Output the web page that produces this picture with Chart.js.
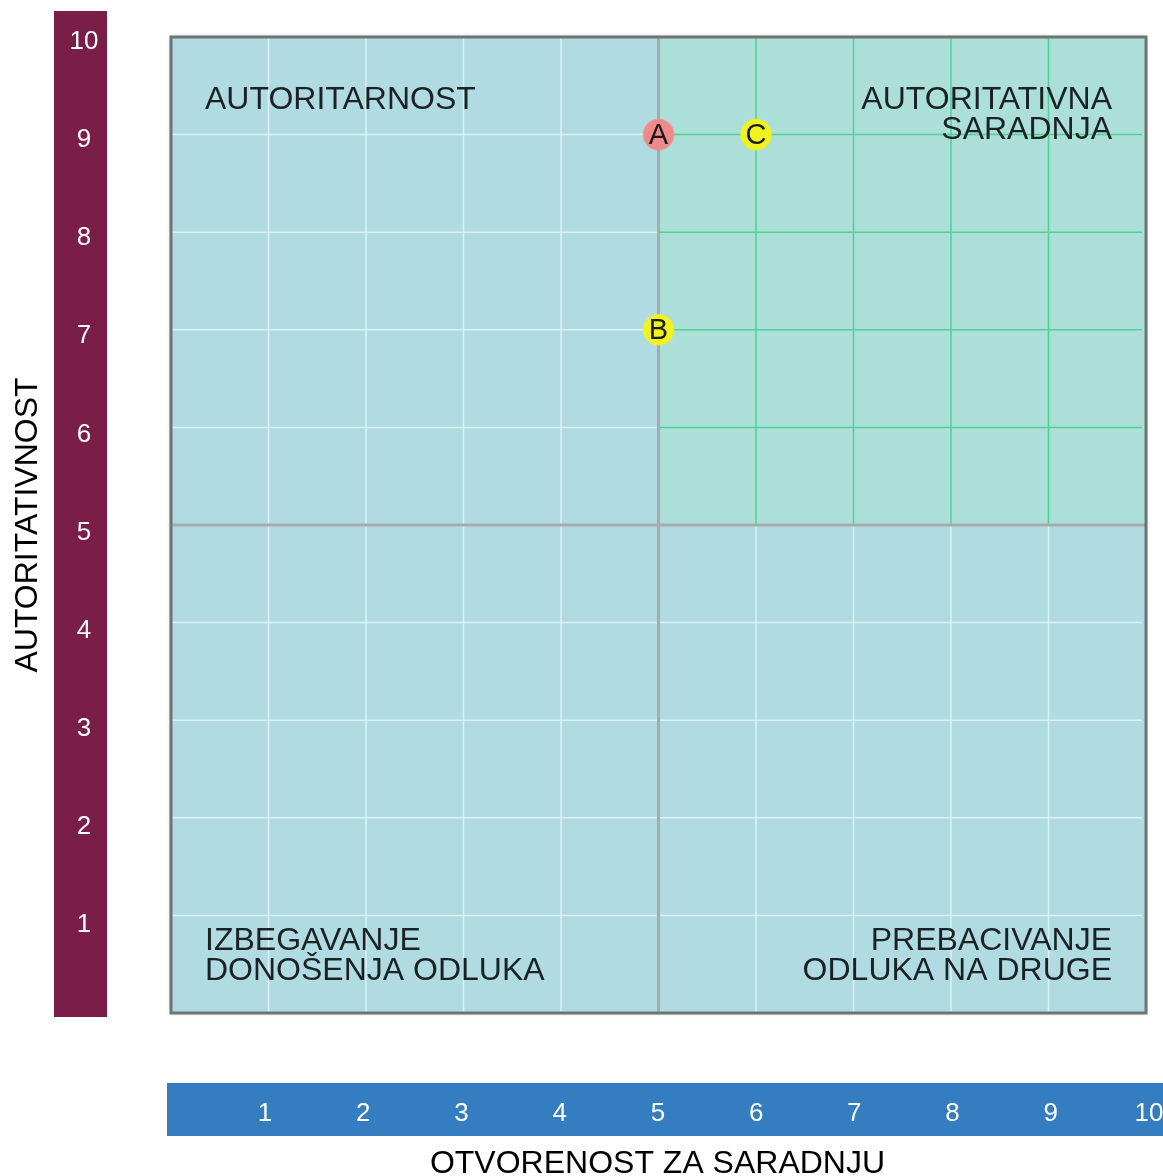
<!DOCTYPE html>
<html>
<head>
<meta charset="utf-8">
<script src="https://cdn.jsdelivr.net/npm/chart.js@4.4.0/dist/chart.umd.min.js"></script>
<style>
    body { margin: 0; background: #ffffff; }
    #wrap { width: 1163px; height: 1176px; position: relative; }
</style>
</head>
<body>
<div id="wrap"><canvas id="chartMatrix"></canvas></div>
<script>
// Data
const xTicks = [1, 2, 3, 4, 5, 6, 7, 8, 9, 10];
const yTicks = [1, 2, 3, 4, 5, 6, 7, 8, 9, 10];
const pointLabels = ['A', 'B', 'C'];
const pointX = [5, 5, 6];
const pointY = [9, 7, 9];
const pointColors = ['#f08a8a', '#f2f21e', '#f2f21e'];
const xTitle = 'OTVORENOST ZA SARADNJU';
const yTitle = 'AUTORITATIVNOST';
const quadrantTopLeft = ['AUTORITARNOST'];
const quadrantTopRight = ['AUTORITATIVNA', 'SARADNJA'];
const quadrantBottomLeft = ['IZBEGAVANJE', 'DONOŠENJA ODLUKA'];
const quadrantBottomRight = ['PREBACIVANJE', 'ODLUKA NA DRUGE'];

const FONT = '"Liberation Sans", Arial, sans-serif';

// Backgrounds, grid, bands
const matrixPlugin = {
    id: 'matrix',
    beforeDatasetsDraw(chart) {
        const ctx = chart.ctx;
        const x = chart.scales.x;
        const y = chart.scales.y;
        const left = x.getPixelForValue(0), right = x.getPixelForValue(10);
        const top = y.getPixelForValue(10), bottom = y.getPixelForValue(0);
        const midX = x.getPixelForValue(5), midY = y.getPixelForValue(5);

        ctx.save();
        // border shadow
        ctx.shadowColor = 'rgba(0,0,0,0.35)';
        ctx.shadowBlur = 4;
        ctx.fillStyle = '#b1dbe3';
        ctx.fillRect(left, top, right - left, bottom - top);
        ctx.shadowBlur = 0;
        ctx.shadowColor = 'transparent';

        // green quadrant
        ctx.fillStyle = '#acdfd8';
        ctx.fillRect(midX, top, right - midX, midY - top);

        // grid lines
        ctx.lineWidth = 1.5;
        for (let v = 1; v < 10; v++) {
            if (v === 5) continue;
            const px = x.getPixelForValue(v);
            const py = y.getPixelForValue(v);
            // verticals
            ctx.strokeStyle = 'rgba(235,248,250,0.75)';
            ctx.beginPath();
            ctx.moveTo(px, v < 5 ? top : midY);
            ctx.lineTo(px, bottom);
            ctx.stroke();
            if (v > 5) {
                ctx.strokeStyle = '#4cd295';
                ctx.beginPath();
                ctx.moveTo(px, top);
                ctx.lineTo(px, midY);
                ctx.stroke();
            }
            // horizontals
            ctx.strokeStyle = 'rgba(235,248,250,0.75)';
            ctx.beginPath();
            ctx.moveTo(left, py);
            ctx.lineTo(v > 5 ? midX : right - 4, py);
            ctx.stroke();
            if (v > 5) {
                ctx.strokeStyle = '#4cd295';
                ctx.beginPath();
                ctx.moveTo(midX, py);
                ctx.lineTo(right - 4, py);
                ctx.stroke();
            }
        }

        // middle lines
        ctx.strokeStyle = '#a9abab';
        ctx.lineWidth = 3;
        ctx.beginPath();
        ctx.moveTo(midX, top);
        ctx.lineTo(midX, bottom);
        ctx.moveTo(left, midY);
        ctx.lineTo(right, midY);
        ctx.stroke();

        // frame
        ctx.strokeStyle = '#6e7474';
        ctx.lineWidth = 3;
        ctx.strokeRect(left, top, right - left, bottom - top);

        // quadrant texts
        ctx.fillStyle = '#1b2224';
        ctx.font = '32px ' + FONT;
        ctx.textBaseline = 'middle';
        const lh = 30;
        ctx.textAlign = 'left';
        quadrantTopLeft.forEach((t, i) => ctx.fillText(t, left + 34, 100 + i * lh));
        quadrantBottomLeft.forEach((t, i) => ctx.fillText(t, left + 34, 941 + i * lh));
        ctx.textAlign = 'right';
        quadrantTopRight.forEach((t, i) => ctx.fillText(t, right - 34, 100 + i * lh));
        quadrantBottomRight.forEach((t, i) => ctx.fillText(t, right - 34, 941 + i * lh));

        // left band
        ctx.fillStyle = '#7b1e47';
        ctx.fillRect(54, 11, 53, 1006);
        // bottom band
        ctx.fillStyle = '#347dc1';
        ctx.fillRect(167, 1083, 996, 53);

        ctx.fillStyle = '#ffffff';
        ctx.font = '26px ' + FONT;
        ctx.textAlign = 'center';
        ctx.textBaseline = 'middle';
        yTicks.forEach((v) => {
            ctx.fillText(String(v), 84, y.getPixelForValue(v) + 10 - v * 0.5);
        });
        xTicks.forEach((v) => {
            ctx.fillText(String(v), x.getPixelForValue(v) - 4.2 + v * 0.72, 1114);
        });

        // axis titles
        ctx.fillStyle = '#000000';
        ctx.font = '32px ' + FONT;
        ctx.fillText(xTitle, (left + right) / 2 - 1, 1164);
        ctx.translate(28, 525);
        ctx.rotate(-Math.PI / 2);
        ctx.fillText(yTitle, 0, 0);
        ctx.restore();
    },
    afterDatasetsDraw(chart) {
        const ctx = chart.ctx;
        const meta = chart.getDatasetMeta(0);
        ctx.save();
        ctx.fillStyle = '#1a1a1a';
        ctx.font = '29px ' + FONT;
        ctx.textAlign = 'center';
        ctx.textBaseline = 'middle';
        meta.data.forEach((pt, i) => {
            ctx.fillText(pointLabels[i], pt.x, pt.y + 1);
        });
        ctx.restore();
    }
};

const ctx = document.getElementById('chartMatrix');
const chartMatrix = new Chart(ctx, {
    type: 'scatter',
    data: {
        datasets: [{
            data: pointX.map((v, i) => ({ x: v, y: pointY[i] })),
            backgroundColor: pointColors,
            borderColor: pointColors.map(c => c + '99'),
            borderWidth: 2,
            pointRadius: 15,
            pointHoverRadius: 15
        }]
    },
    options: {
        responsive: true,
        maintainAspectRatio: false,
        animation: false,
        layout: {
            padding: { left: 171, top: 37, right: 16, bottom: 163 }
        },
        plugins: {
            legend: { display: false },
            tooltip: { enabled: false }
        },
        scales: {
            x: { type: 'linear', min: 0, max: 10, display: false },
            y: { type: 'linear', min: 0, max: 10, display: false }
        }
    },
    plugins: [matrixPlugin]
});
</script>
</body>
</html>
